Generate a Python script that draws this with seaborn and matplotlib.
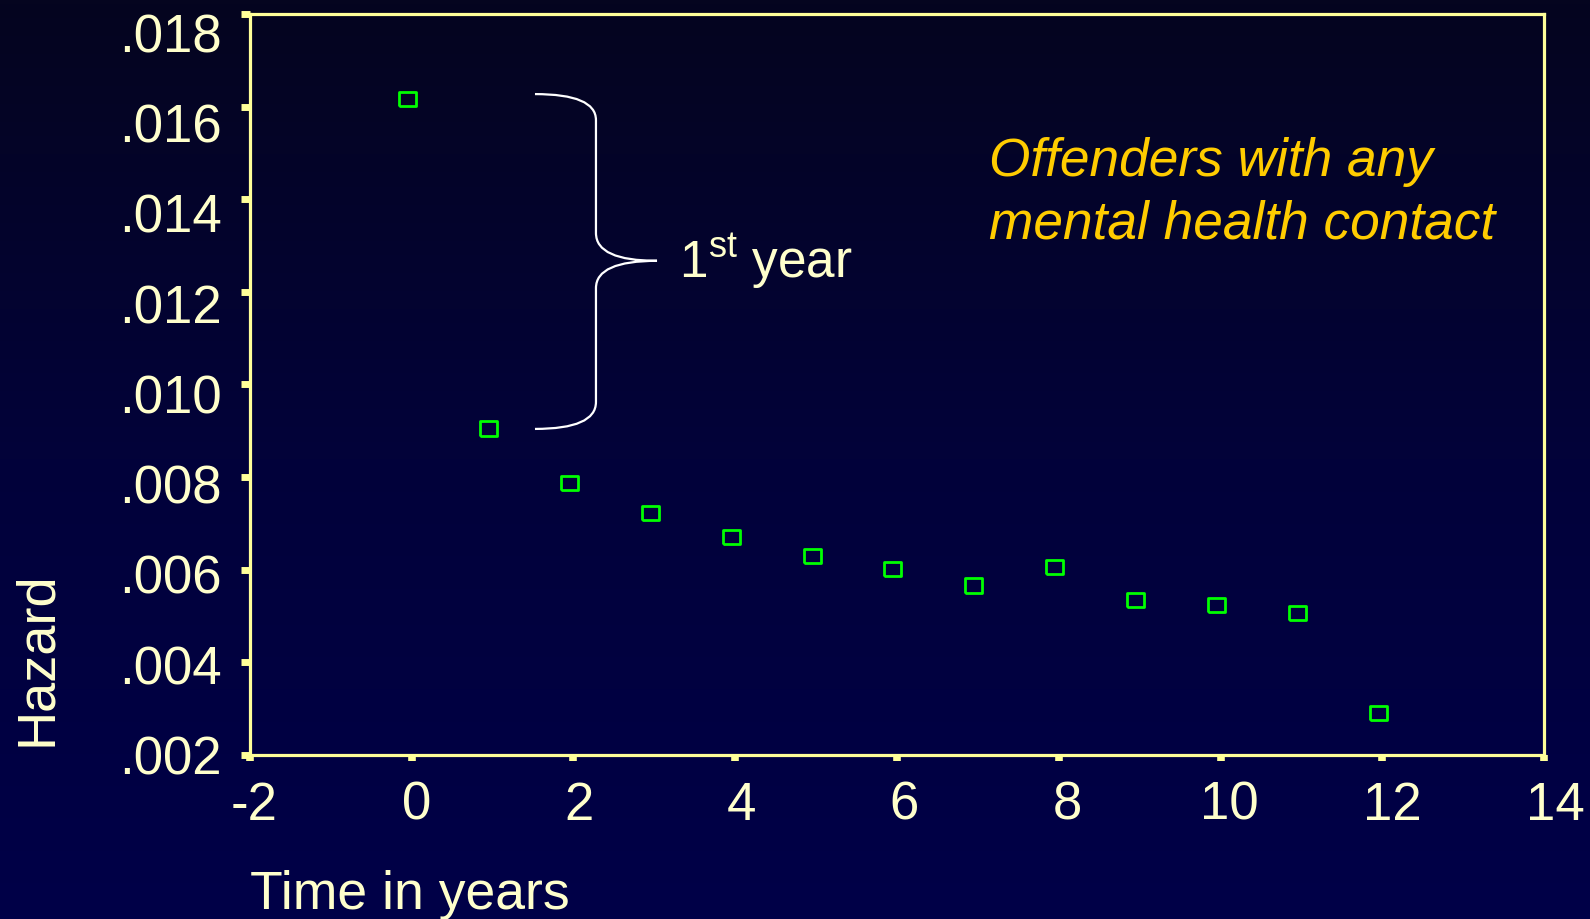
"""
Hazard of reoffending by time since release, dark slide style.
"""
import numpy as np
import pandas as pd
import seaborn as sns
import matplotlib.pyplot as plt
import matplotlib.transforms as mtransforms
from matplotlib.path import Path
from matplotlib.patches import PathPatch
from matplotlib.colors import LinearSegmentedColormap

# values
time_years = [-0.05, 0.95, 1.95, 2.95, 3.95, 4.95, 5.95, 6.95, 7.95, 8.95, 9.95, 10.95, 11.95]
hazard = [0.01616, 0.00905, 0.00787, 0.00723, 0.00671, 0.00629, 0.00601,
          0.00566, 0.00605, 0.00535, 0.00524, 0.00507, 0.00290]
x_ticks = [-2, 0, 2, 4, 6, 8, 10, 12, 14]
y_ticks = [0.002, 0.004, 0.006, 0.008, 0.010, 0.012, 0.014, 0.016, 0.018]
y_tick_labels = ['.002', '.004', '.006', '.008', '.010', '.012', '.014', '.016', '.018']

TEXT = '#ffffcc'
AXIS = '#ffff99'
ORANGE = '#ffcc00'
GREEN = '#00ff00'

sns.set_style('dark')
plt.rcParams['font.family'] = ['Liberation Sans', 'DejaVu Sans']
plt.rcParams['mathtext.fontset'] = 'custom'
plt.rcParams['mathtext.rm'] = 'Liberation Sans'

fig = plt.figure(figsize=(15.9, 9.19), dpi=100)

# gradient background
bg = fig.add_axes([0, 0, 1, 1], zorder=0)
grad = np.linspace(0, 1, 256).reshape(-1, 1)
cmap = LinearSegmentedColormap.from_list('slide', ['#05051f', '#02023a', '#000048'])
bg.imshow(grad, aspect='auto', cmap=cmap, extent=[0, 1, 0, 1], origin='upper')
bg.axis('off')

ax = fig.add_axes([0.1572, 0.1785, 0.8139, 0.8063], zorder=1)
ax.set_facecolor('none')

df = pd.DataFrame({'Time': time_years, 'Hazard': hazard})
rect = [(-1.2, -1), (1.2, -1), (1.2, 1), (-1.2, 1), (-1.2, -1)]
sns.scatterplot(data=df, x='Time', y='Hazard', marker=rect, s=150,
    facecolors='none', edgecolor=GREEN, linewidth=2, ax=ax, zorder=3)

ax.set_xlim(-2, 14)
ax.set_ylim(0.002, 0.018)
ax.set_xticks(x_ticks)
ax.set_xticklabels([str(t) for t in x_ticks])
ax.set_yticks(y_ticks)
ax.set_yticklabels(y_tick_labels)
ax.grid(False)

for side in ['left', 'right', 'top', 'bottom']:
    ax.spines[side].set_visible(True)
    ax.spines[side].set_color(AXIS)
    ax.spines[side].set_linewidth(2.3)

ax.tick_params(axis='x', direction='out', length=4.5, width=5.5, color=AXIS,
    labelcolor=TEXT, labelsize=38, pad=14, bottom=True)
ax.tick_params(axis='y', direction='out', length=6.5, width=5, color=AXIS,
    labelcolor=TEXT, labelsize=38, pad=14, left=True)

# the slide's labels drift slightly from their ticks
n = len(y_ticks) - 1
for i, lab in enumerate(ax.get_yticklabels()):
    shift = -19 * i / n / 100.0
    lab.set_transform(lab.get_transform() + mtransforms.ScaledTranslation(0, shift, fig.dpi_scale_trans))
for i, lab in enumerate(ax.get_xticklabels()):
    shift = (4 + 7 * i / n) / 100.0
    lab.set_transform(lab.get_transform() + mtransforms.ScaledTranslation(shift, 0, fig.dpi_scale_trans))

ax.set_xlabel('Time in years', fontsize=38.5, color=TEXT, loc='left', labelpad=28)
ax.set_ylabel('Hazard', fontsize=39, color=TEXT, loc='bottom', labelpad=40)
ax.yaxis.set_label_coords(-0.145, 0.012)

# curly brace marking the first year
bx0, bx1, bx2 = 1.524, 2.278, 3.033
ytop, y1, y2, ymid, y3, y4, ybot = 0.01627, 0.01571, 0.01327, 0.01267, 0.01208, 0.00962, 0.00904
verts = [(bx0, ytop), (bx1, ytop), (bx1, y1),
         (bx1, y2),
         (bx1, ymid), (bx2, ymid),
         (bx1, ymid), (bx1, y3),
         (bx1, y4),
         (bx1, ybot), (bx0, ybot)]
codes = [Path.MOVETO, Path.CURVE3, Path.CURVE3,
         Path.LINETO,
         Path.CURVE3, Path.CURVE3,
         Path.CURVE3, Path.CURVE3,
         Path.LINETO,
         Path.CURVE3, Path.CURVE3]
ax.add_patch(PathPatch(Path(verts, codes), facecolor='none', edgecolor='white', lw=1.6, zorder=2))

ax.text(3.3, 0.01267, '1$^{\\mathrm{st}}$ year', fontsize=37, color=TEXT, va='center', ha='left')

ax.text(0.571, 0.758, 'Offenders with any\nmental health contact', transform=ax.transAxes,
    fontsize=38.3, color=ORANGE, style='italic', ha='left', va='center', linespacing=1.3)

plt.savefig('out.png', dpi=100)
plt.close()
